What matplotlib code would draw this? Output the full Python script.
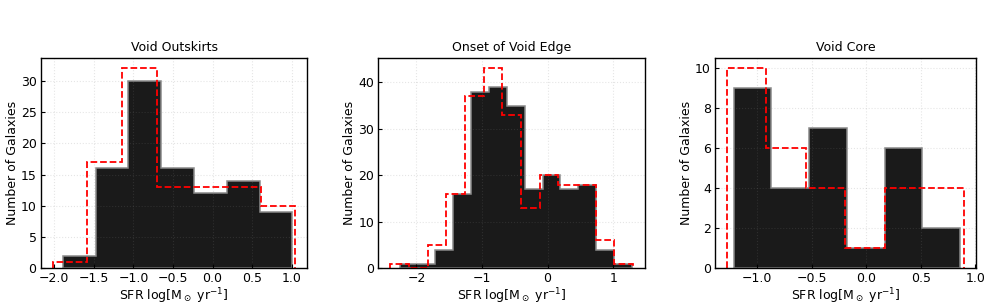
import matplotlib
matplotlib.use("Agg")
import matplotlib.pyplot as plt

titles = ["Void Outskirts", "Onset of Void Edge", "Void Core"]

# Panel 1: Void Outskirts
p1_black_edges = [-1.890, -1.476, -1.062, -0.648, -0.234, 0.180, 0.594, 1.008]
p1_black_counts = [2, 16, 30, 16, 12, 14, 9]
p1_red_edges = [-2.017, -1.580, -1.143, -0.706, -0.269, 0.168, 0.605, 1.042]
p1_red_counts = [1, 17, 32, 13, 13, 13, 10]

# Panel 2: Onset of Void Edge
p2_black_edges = [-2.254, -1.982, -1.710, -1.437, -1.165, -0.893, -0.621, -0.348,
                  -0.076, 0.196, 0.468, 0.740, 1.012, 1.284]
p2_black_counts = [1, 1, 4, 16, 38, 39, 35, 17, 20, 17, 18, 4, 1]
p2_red_edges = [-2.396, -2.112, -1.827, -1.543, -1.259, -0.974, -0.690, -0.406,
                -0.121, 0.163, 0.447, 0.732, 1.016, 1.300]
p2_red_counts = [1, 0, 5, 16, 37, 43, 33, 13, 20, 18, 18, 6, 1]

# Panel 3: Void Core
p3_black_edges = [-1.217, -0.871, -0.524, -0.178, 0.169, 0.516, 0.862]
p3_black_counts = [9, 4, 7, 1, 6, 2]
p3_red_edges = [-1.278, -0.915, -0.552, -0.190, 0.173, 0.536, 0.899]
p3_red_counts = [10, 6, 4, 1, 4, 4]

panels = [
    (p1_black_edges, p1_black_counts, p1_red_edges, p1_red_counts),
    (p2_black_edges, p2_black_counts, p2_red_edges, p2_red_counts),
    (p3_black_edges, p3_black_counts, p3_red_edges, p3_red_counts),
]

fig = plt.figure(figsize=(9.88, 3.08), dpi=100)
positions = [
    [40.7 / 988, 1 - 268.3 / 308, 266.6 / 988, 210 / 308],
    [378.3 / 988, 1 - 268.3 / 308, 266.7 / 988, 210 / 308],
    [715.0 / 988, 1 - 268.3 / 308, 261.0 / 988, 210 / 308],
]

for pos, title, (be, bc, re_, rc) in zip(positions, titles, panels):
    ax = fig.add_axes(pos)
    ax.hist(be[:-1], bins=be, weights=bc, histtype="stepfilled",
            facecolor=(0.1, 0.1, 0.1), edgecolor="#8a8a8a", linewidth=1.1,
            zorder=1)
    ax.hist(re_[:-1], bins=re_, weights=rc, histtype="step",
            color="red", linestyle="--", linewidth=1.3, zorder=3)
    ax.set_title(title, fontsize=9, pad=5)
    ax.set_xlabel(r"SFR log[M$_\odot$ yr$^{-1}$]", fontsize=9, labelpad=0.5)
    ax.set_ylabel("Number of Galaxies", fontsize=9, labelpad=1.5)
    ax.tick_params(direction="in", labelsize=9, length=3, pad=3)
    ax.set_axisbelow(False)
    ax.grid(True, linestyle=":", color="gray", alpha=0.2, linewidth=0.8)
    for s in ax.spines.values():
        s.set_color("black")
        s.set_linewidth(1.0)
        s.set_zorder(4)

fig.savefig("out.png", dpi=100)
